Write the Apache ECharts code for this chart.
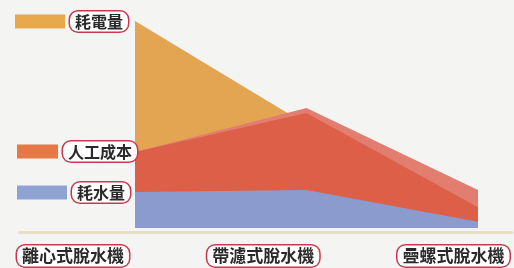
<!DOCTYPE html>
<html>
<head>
<meta charset="utf-8">
<script src="https://cdn.jsdelivr.net/npm/echarts@6/dist/echarts.min.js"></script>
<style>
  html, body { margin: 0; padding: 0; background: #f4f4f2; }
  #chart { width: 514px; height: 268px; }
</style>
</head>
<body>
<div id="chart"></div>
<script>
// 類別
var categories = ['離心式脫水機', '帶濾式脫水機', '疊螺式脫水機'];
// 數值 (相對量, 由圖估讀)
var power = [100, 50, 0];        // 耗電量
var labour = [36.7, 55.6, 10];   // 人工成本 (正面)
var labourTop = [36.7, 58, 18.4]; // 人工成本 (立體頂面)
var water = [17.4, 18.4, 3];     // 耗水量

var FONT = '"Noto Sans CJK TC", "Noto Sans CJK SC", sans-serif';
var boxText = {
    fontFamily: FONT,
    fontSize: 16,
    fontWeight: 'bold',
    color: '#2a2a2a',
    backgroundColor: '#fff',
    borderColor: '#c8384f',
    borderWidth: 1.5,
    borderRadius: 8,
    padding: [2, 5, 2, 5]
};

function legendAt(name, color, left, top, w) {
    return {
        data: [{ name: name, itemStyle: { color: color } }],
        left: left,
        top: top,
        padding: 0,
        orient: 'vertical',
        icon: 'rect',
        itemWidth: w,
        itemHeight: 14,
        selectedMode: false,
        textStyle: boxText
    };
}

function area(name, data, color, z) {
    return {
        name: name,
        type: 'line',
        data: data,
        symbol: 'none',
        z: z,
        lineStyle: { width: 0 },
        areaStyle: { color: color, opacity: 1 },
        itemStyle: { color: color },
        xAxisIndex: 0,
        yAxisIndex: 0
    };
}

var myChart = echarts.init(document.getElementById('chart'));
myChart.setOption({
    backgroundColor: '#f4f4f2',
    animation: false,
    legend: [
        legendAt('耗電量', '#e8a84c', 15, 10, 50),
        legendAt('人工成本', '#e67846', 17, 140, 41),
        legendAt('耗水量', '#8fa3d3', 17, 181, 50)
    ],
    grid: [
        { left: 135, right: 36, top: 21, bottom: 40 },
        { left: 73, right: 59, top: 236, height: 1 },
        { left: 20, right: 2, top: 231, height: 1 }
    ],
    xAxis: [
        {
            gridIndex: 0, type: 'category', data: categories, boundaryGap: false,
            axisLine: { show: false }, axisTick: { show: false }, axisLabel: { show: false }
        },
        {
            gridIndex: 1, type: 'category', data: categories, boundaryGap: false,
            axisLine: { show: false }, axisTick: { show: false },
            axisLabel: Object.assign({ interval: 0, margin: 9, verticalAlign: 'top' }, boxText, { fontSize: 17 })
        },
        {
            gridIndex: 2, type: 'value', min: 0, max: 1,
            axisLine: { show: true, lineStyle: { color: '#e6dfc6', width: 3 } },
            axisTick: { show: false }, axisLabel: { show: false }, splitLine: { show: false }
        }
    ],
    yAxis: [
        { gridIndex: 0, type: 'value', min: 0, max: 100, show: false },
        { gridIndex: 1, type: 'value', show: false },
        { gridIndex: 2, type: 'value', show: false }
    ],
    series: [
        area('耗電量', power, '#e4a552', 1),
        area('人工成本頂面', labourTop, '#e27e70', 2),
        area('人工成本', labour, '#dd5f47', 3),
        area('耗水量', water, '#8c9bcd', 4)
    ]
});
</script>
</body>
</html>
